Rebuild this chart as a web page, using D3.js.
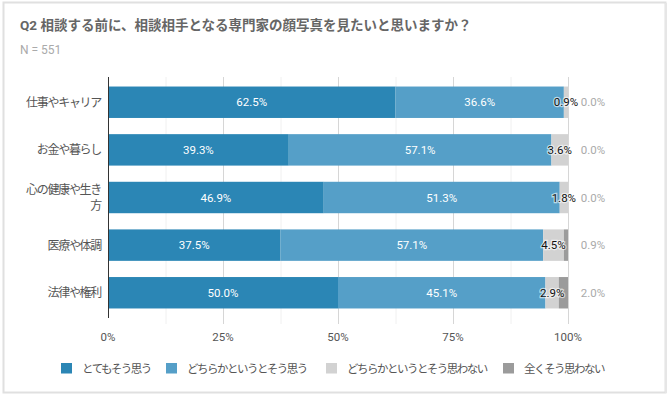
<!DOCTYPE html>
<html>
<head>
<meta charset="utf-8">
<script src="https://cdn.jsdelivr.net/npm/d3@7"></script>
<style>
  body { margin: 0; background: #fff; }
  svg text { font-family: Roboto, "Noto Sans CJK JP", sans-serif; }
</style>
</head>
<body>
<div id="chart"></div>
<script>
// data
var categories = ["仕事やキャリア", "お金や暮らし", "心の健康や生き方", "医療や体調", "法律や権利"]
var seriesNames = ["とてもそう思う", "どちらかというとそう思う", "どちらかというとそう思わない", "全くそう思わない"]
var strongYes = [62.5, 39.3, 46.9, 37.5, 50.0]
var ratherYes = [36.6, 57.1, 51.3, 57.1, 45.1]
var ratherNo = [0.9, 3.6, 1.8, 4.5, 2.9]
var strongNo = [0.0, 0.0, 0.0, 0.9, 2.0]
var xTicks = [0, 25, 50, 75, 100]

var colors = ["#2b86b5", "#559fc8", "#d2d2d2", "#9b9b9b"]

var W = 669, H = 396
var margin = {top: 77, right: 101, bottom: 78, left: 108},
    width = W - margin.left - margin.right,
    height = H - margin.top - margin.bottom

var svg = d3.select("#chart").append("svg")
    .attr("width", W)
    .attr("height", H)

// card frame
svg.append("rect")
  .attr("x", 3.5).attr("y", 2.5)
  .attr("width", 662).attr("height", 390)
  .attr("fill", "none")
  .attr("stroke", "#e0e0e0")
  .attr("stroke-width", 2)
svg.append("line")
  .attr("x1", 666).attr("x2", 666).attr("y1", 3).attr("y2", 393)
  .attr("stroke", "#e6e6e6").attr("stroke-width", 2)

svg.append("text")
  .attr("x", 20).attr("y", 30)
  .attr("fill", "#666")
  .attr("font-size", 13.5)
  .attr("font-weight", "bold")
  .text("Q2 相談する前に、相談相手となる専門家の顔写真を見たいと思いますか？")

svg.append("text")
  .attr("x", 20).attr("y", 54)
  .attr("fill", "#aaa")
  .attr("font-size", 12)
  .text("N = 551")

var g = svg.append("g")
  .attr("transform", "translate(" + margin.left + "," + margin.top + ")")

var x = d3.scaleLinear().domain([0, 100]).range([0, width])
var y = d3.scaleBand().domain(categories).range([0, height]).paddingInner(0.34).paddingOuter(0.2)

// gridlines
var minor = d3.range(12.5, 100, 25)
g.selectAll(".minor").data(minor).enter().append("line")
  .attr("x1", d => x(d) + 0.5).attr("x2", d => x(d) + 0.5)
  .attr("y1", 0).attr("y2", height + 6)
  .attr("stroke", "#f0f0f0")
g.selectAll(".major").data(xTicks.slice(1)).enter().append("line")
  .attr("x1", d => x(d) + 0.5).attr("x2", d => x(d) + 0.5)
  .attr("y1", 0).attr("y2", height + 6)
  .attr("stroke", "#d6d6d6")

// x tick labels
g.selectAll(".xt").data(xTicks).enter().append("text")
  .attr("x", d => x(d))
  .attr("y", height + 23)
  .attr("text-anchor", "middle")
  .attr("fill", "#555")
  .attr("font-size", 11.5)
  .text(d => d + "%")

// stacked data
var rows = categories.map(function(c, i) {
  return {cat: c, v: [strongYes[i], ratherYes[i], ratherNo[i], strongNo[i]]}
})
var stack = d3.stack().keys([0, 1, 2, 3]).value((d, k) => d.v[k])
var layers = stack(rows)

layers.forEach(function(layer, k) {
  g.selectAll(".s" + k).data(layer).enter().append("rect")
    .attr("x", d => x(d[0]))
    .attr("y", d => y(d.data.cat))
    .attr("width", d => x(d[1]) - x(d[0]))
    .attr("height", y.bandwidth())
    .attr("fill", colors[k])
})

// value labels
layers.forEach(function(layer, k) {
  var lab = g.selectAll(".l" + k).data(layer).enter().append("text")
    .attr("y", d => y(d.data.cat) + y.bandwidth() / 2 + 4)
    .attr("text-anchor", "middle")
    .attr("font-size", 11.5)
    .text(d => d.data.v[k].toFixed(1) + "%")
  if (k < 2) {
    lab.attr("x", d => x((d[0] + d[1]) / 2)).attr("fill", "#fff")
  } else if (k == 2) {
    lab.attr("x", d => x((d[0] + d[1]) / 2)).attr("fill", "#111")
      .attr("stroke", "#fff").attr("stroke-width", 2.5)
      .attr("stroke-opacity", 0.6).attr("paint-order", "stroke")
  } else {
    lab.attr("x", x(100) + 25).attr("fill", "#aaa")
  }
})

// axis line
g.append("line")
  .attr("x1", 0.5).attr("x2", 0.5)
  .attr("y1", 0).attr("y2", height)
  .attr("stroke", "#333")

// category labels
var cats = g.selectAll(".cat").data(categories).enter().append("text")
  .attr("text-anchor", "end")
  .attr("fill", "#555")
  .attr("font-size", 12)
  .attr("letter-spacing", -1.3)
cats.each(function(d) {
  var t = d3.select(this)
  var cy = y(d) + y.bandwidth() / 2
  if (d.length > 7) {
    t.append("tspan").attr("x", -7).attr("y", cy - 3.5).text(d.slice(0, 7))
    t.append("tspan").attr("x", -7).attr("y", cy + 12).text(d.slice(7))
  } else {
    t.append("tspan").attr("x", -7).attr("y", cy + 4.5).text(d)
  }
})

// legend
var legX = [61, 166, 326, 503]
var leg = svg.selectAll(".leg").data(seriesNames).enter().append("g")
  .attr("transform", (d, i) => "translate(" + legX[i] + ",363)")
leg.append("rect")
  .attr("width", 11).attr("height", 10.5)
  .attr("fill", (d, i) => colors[i])
leg.append("text")
  .attr("x", 21).attr("y", 9.5)
  .attr("fill", "#555")
  .attr("font-size", 11.5)
  .attr("letter-spacing", -1.5)
  .text(d => d)
</script>
</body>
</html>
